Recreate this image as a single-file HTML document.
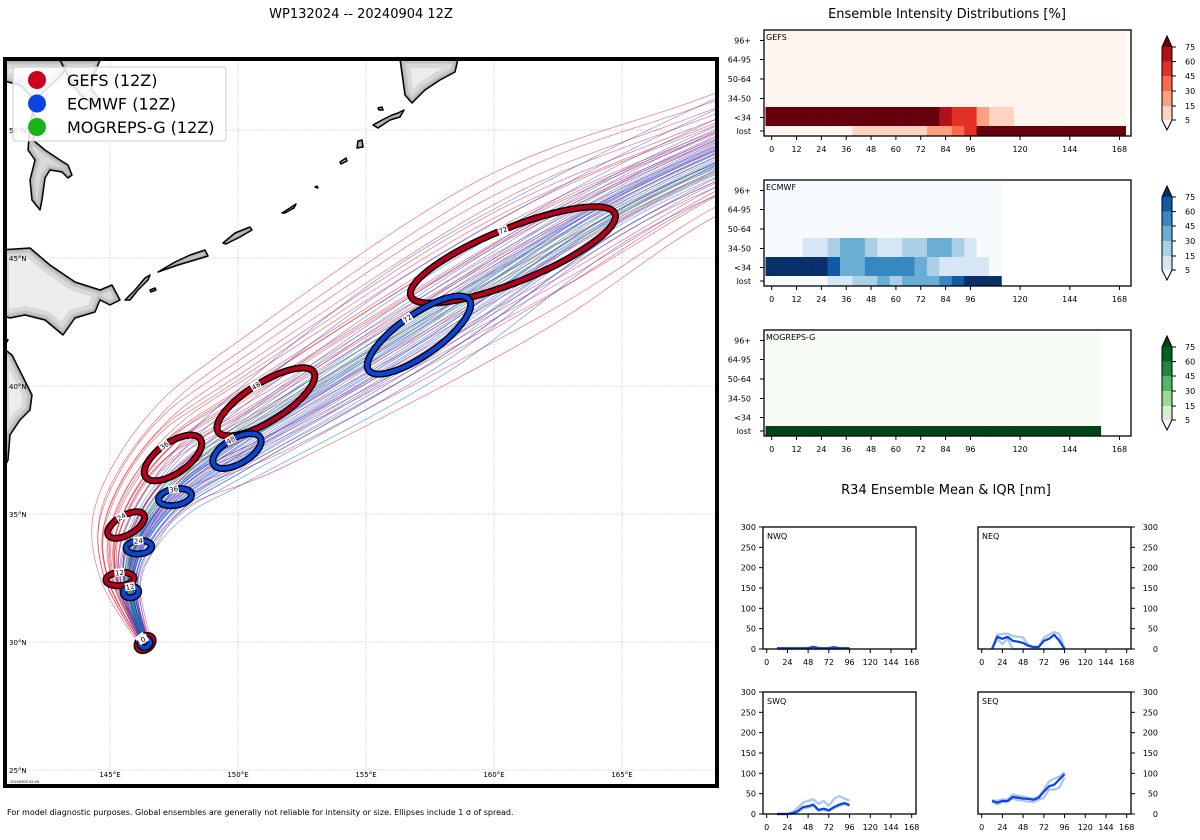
<!DOCTYPE html>
<html><head><meta charset="utf-8"><style>
html,body{margin:0;padding:0;background:#fff;}
svg{display:block;font-family:"DejaVu Sans","Liberation Sans",sans-serif;}
</style></head><body>
<svg id="fig" width="1200" height="840" viewBox="0 0 1200 840" xmlns="http://www.w3.org/2000/svg">
<defs>
<clipPath id="mapclip"><rect x="5" y="59" width="712" height="727"/></clipPath>
</defs>
<text x="361" y="18" font-size="13" text-anchor="middle">WP132024 -- 20240904 12Z</text>
<text x="947" y="18" font-size="13" text-anchor="middle">Ensemble Intensity Distributions [%]</text>
<text x="946" y="494" font-size="13" text-anchor="middle">R34 Ensemble Mean &amp; IQR [nm]</text>
<text x="7" y="815" font-size="8">For model diagnostic purposes. Global ensembles are generally not reliable for intensity or size. Ellipses include 1 σ of spread.</text>
<g id="map"></g>
<g id="heat"></g>
<g id="r34"></g>
</svg>
<script>
// ---------- data ----------
const trackHours = [0,12,24,36,48,72,96,120];
const gefsLon = [146.37,145.39,145.63,147.46,151.09,160.74,168.5,176];
const gefsLat = [29.96,32.46,34.57,37.19,39.38,45.12,49.0,51.8];
const ecmwfLon = [146.37,145.82,146.13,147.54,149.96,157.07,164.5,171];
const ecmwfLat = [29.96,31.95,33.70,35.66,37.46,41.99,46.9,50.0];
const mogLon = [146.37,145.7,146.0,147.6,150.6,159.0,167,175];
const mogLat = [29.96,32.2,34.1,36.4,38.6,43.6,47.8,50.7];
const gefsSpread = [0.15,0.5,0.9,1.2,1.6,2.0,1.4,1.3];
const ecmwfSpread = [0.1,0.25,0.4,0.6,0.9,1.3,1.0,1.0];
const gefsCross = [-1.6,-1.3,-1.1,-0.9,-0.75,-0.6,-0.45,-0.3,-0.2,-0.1,0,0.1,0.2,0.3,0.4,0.5,0.6,0.75,0.9,1.05,1.2,1.4,-1.0,-0.5,0.35,0.8,1.6,-0.8,0.05,0.55];
const gefsAlong = [-0.3,0.2,-0.5,0.4,-0.1,0.3,-0.4,0.1,0.5,-0.2,0.0,-0.3,0.25,-0.15,0.4,-0.45,0.1,0.3,-0.25,0.2,-0.1,0.35,0.6,-0.6,0.15,-0.35,0.0,0.45,-0.5,0.2];
const ecmwfCross = [-1.4,-1.1,-0.9,-0.75,-0.6,-0.5,-0.4,-0.3,-0.22,-0.15,-0.08,0,0.08,0.15,0.22,0.3,0.4,0.5,0.6,0.75,0.9,1.1,1.35,1.7,2.1,-0.35,0.12,0.45,-0.65,0.25,0.7,-0.2,1.0,-0.9,0.35];
const ecmwfAlong = [0.1,-0.2,0.3,-0.1,0.2,-0.3,0.0,0.15,-0.25,0.35,-0.05,0.1,-0.15,0.25,-0.3,0.05,0.2,-0.1,0.3,-0.2,0.1,0.0,-0.25,0.4,0.6,0.2,-0.4,0.3,0.1,-0.15,0.05,0.25,-0.35,0.15,-0.05];
const mogCross = [-0.4,0.0,0.4];
const gefsEllHours = [0,12,24,36,48,72];
const gefsEllRx = [0.35,0.55,0.8,1.3,2.2,4.3];
const gefsEllRy = [0.25,0.26,0.38,0.6,0.75,1.05];
const gefsEllRot = [-40,-5,-30,-35,-32,-22];
const ecmwfEllRx = [0.2,0.3,0.5,0.65,1.05,2.4];
const ecmwfEllRy = [0.17,0.22,0.26,0.32,0.5,0.8];
const ecmwfEllRot = [-30,-10,-5,-10,-30,-35];
const lonTicks = [145,150,155,160,165];
const latTicks = [25,30,35,40,45,50];

const hmHours = [0,6,12,18,24,30,36,42,48,54,60,66,72,78,84,90,96,102,108,114,120,126,132,138,144,150,156,162,168];
const hmRows = ['96+','64-95','50-64','34-50','<34','lost'];
const gefsLt34 = [90,90,90,90,90,90,90,90,90,90,90,90,90,90,65,50,50,20,10,10,0,0,0,0,0,0,0,0,0];
const gefsLost = [0,0,0,0,0,0,0,10,10,10,10,10,10,20,20,35,50,90,90,90,90,90,90,90,90,90,90,90,90];
const ecmwfLt34 = [90,90,90,90,90,65,35,35,50,50,50,50,35,20,10,10,10,10,0];
const ecmwf3450 = [0,0,0,10,10,20,35,35,20,10,10,20,20,35,35,20,10,0,0];
const ecmwfLost = [0,0,0,0,0,10,10,20,20,35,20,35,35,35,50,65,90,90,90];
const mogLost = [90,90,90,90,90,90,90,90,90,90,90,90,90,90,90,90,90,90,90,90,90,90,90,90,90,90,90];
const cbLevels = [5,15,30,45,60,75];

const r34Hours = [12,18,24,30,36,42,48,54,60,66,72,78,84,90,96];
const nwqMean = [2,2,2,2,2,2,2,5,2,2,2,4,2,2,2];
const nwqHi = [2,2,2,2,2,2,3,6,3,2,3,5,3,2,2];
const nwqLo = [0,0,0,0,0,0,0,0,0,0,0,0,0,0,0];
const neqMean = [0,30,25,30,20,18,15,8,5,5,20,25,35,20,0];
const neqHi = [0,35,37,38,32,30,28,10,5,5,28,35,42,37,0];
const neqLo = [0,25,12,25,0,0,0,0,0,0,0,0,0,0,0];
const swqMean = [0,0,0,2,7,17,19,23,10,13,9,17,23,27,22];
const swqHi = [0,0,0,5,15,28,32,36,25,32,20,37,44,38,33];
const swqLo = [0,0,0,1,5,14,16,20,8,10,7,14,20,24,20];
const seqMean = [32,28,32,32,42,40,38,37,35,40,55,68,72,85,98];
const seqHi = [34,32,36,35,48,45,43,40,38,43,60,80,87,92,103];
const seqLo = [30,24,30,30,38,34,33,30,30,35,40,60,60,65,90];
const r34YTicks = [0,50,100,150,200,250,300];
const r34XTicks = [0,24,48,72,96,120,144,168];

// ---------- helpers ----------
const NS='http://www.w3.org/2000/svg';
function mk(parent,tag,attrs,text){const e=document.createElementNS(NS,tag);for(const k in attrs)e.setAttribute(k,attrs[k]);if(text!==undefined)e.textContent=text;parent.appendChild(e);return e;}
const X=lon=>110+(lon-145)*25.6;
const Y=lat=>642-(lat-30)*25.6;

// ---------- map ----------
const map=document.getElementById('map');
mk(map,'rect',{x:5,y:59,width:712,height:727,fill:'#fff'});
const inner=mk(map,'g',{'clip-path':'url(#mapclip)'});
lonTicks.forEach(l=>{const g=mk(inner,'line',{x1:X(l),x2:X(l),y1:59,y2:786,stroke:'#c8c8c8','stroke-width':0.8,'stroke-dasharray':'1.5,1.5'});});
latTicks.forEach(l=>{const g=mk(inner,'line',{x1:5,x2:717,y1:Y(l),y2:Y(l),stroke:'#c8c8c8','stroke-width':0.8,'stroke-dasharray':'1.5,1.5'});});
// land
const lands=[
 'M0,60 L70,60 L62,75 L40,95 L32,110 L38,125 L33,140 L45,150 L60,160 L68,165 L72,175 L68,178 L62,172 L50,170 L45,178 L42,200 L40,210 L32,200 L30,180 L35,160 L28,150 L30,125 L35,100 L20,85 L0,80 Z',
 'M60,60 L100,60 L92,80 L92,90 L100,100 L95,105 L80,95 L70,80 Z',
 'M0,250 L30,248 L50,265 L75,282 L100,290 L112,285 L120,300 L110,305 L100,300 L95,312 L75,318 L63,335 L45,320 L25,315 L10,318 L0,315 Z',
 'M0,335 L8,340 L3,348 L12,355 L22,375 L32,395 L30,410 L20,420 L10,435 L8,460 L3,470 L0,470 Z',
 'M400,59 L458,59 L455,72 L440,80 L425,90 L412,103 L405,95 Z',
 'M373,125 L382,120 L392,115 L398,113 L404,110 L400,117 L390,120 L378,128 Z',
 'M358,141 L362,140 L363,147 L357,148 Z',
 'M125,300 L135,290 L145,278 L150,275 L148,280 L138,290 L130,300 Z',
 'M158,272 L175,262 L190,255 L205,250 L208,256 L195,260 L178,265 Z',
 'M223,243 L235,233 L250,227 L252,230 L240,237 L226,244 Z',
 'M282,213 L290,208 L296,204 L294,208 L285,213 Z',
 'M340,162 L346,158 L347,161 L341,164 Z',
 'M315,187 L317,186 L318,188 Z',
 'M150,290 L155,288 L156,290 L151,292 Z',
 'M378,108 L382,107 L383,110 L379,110 Z',
 'M0,640 L4,642 L2,650 L0,650 Z'
];
lands.forEach((d,i)=>{
 const cid='lc'+i;
 const cp=mk(map.ownerSVGElement.querySelector('defs'),'clipPath',{id:cid});mk(cp,'path',{d:d});
 const g=mk(inner,'g',{});
 
 
 mk(g,'path',{d:d,fill:'#ececec'});
 const cg=mk(g,'g',{'clip-path':'url(#'+cid+')'});
 mk(cg,'path',{d:d,fill:'none',stroke:'#d8d8d8','stroke-width':18});
 mk(cg,'path',{d:d,fill:'none',stroke:'#c4c4c4','stroke-width':9});
 mk(cg,'path',{d:d,fill:'none',stroke:'#aaa','stroke-width':4});
 mk(g,'path',{d:d,fill:'none',stroke:'#000','stroke-width':1.5,'stroke-linejoin':'round'});
});
// tracks
function memberPts(lon,lat,spread,c,a){
 const pts=[];
 for(let i=0;i<lon.length;i++){
  const dx = i<lon.length-1 ? lon[i+1]-lon[i] : lon[i]-lon[i-1];
  const dy = i<lat.length-1 ? lat[i+1]-lat[i] : lat[i]-lat[i-1];
  const n=Math.hypot(dx,dy)||1; const ux=dx/n, uy=dy/n;
  const s=spread[i];
  const lo=lon[i]+s*(c*(-uy)+a*ux), la=lat[i]+s*(c*ux+a*uy);
  pts.push([X(lo),Y(la)]);
 }
 return pts;
}
function smoothPath(p){let d='M'+p[0][0].toFixed(1)+','+p[0][1].toFixed(1);
 for(let i=0;i<p.length-1;i++){const p0=p[i-1]||p[i],p1=p[i],p2=p[i+1],p3=p[i+2]||p2;
  const c1=[p1[0]+(p2[0]-p0[0])/6,p1[1]+(p2[1]-p0[1])/6],c2=[p2[0]-(p3[0]-p1[0])/6,p2[1]-(p3[1]-p1[1])/6];
  d+=' C'+c1.map(v=>v.toFixed(1))+' '+c2.map(v=>v.toFixed(1))+' '+p2.map(v=>v.toFixed(1));}
 return d;}
const tg=mk(inner,'g',{});


gefsCross.forEach((c,i)=>{const p=mk(tg,'path',{d:smoothPath(memberPts(gefsLon,gefsLat,gefsSpread,c,gefsAlong[i])),fill:'none',stroke:'#e0001b','stroke-width':0.7,opacity:0.55});
 });
ecmwfCross.forEach((c,i)=>{const p=mk(tg,'path',{d:smoothPath(memberPts(ecmwfLon,ecmwfLat,ecmwfSpread,c,ecmwfAlong[i])),fill:'none',stroke:'#0b45e0','stroke-width':0.7,opacity:0.55});
 });
mogCross.forEach(c=>{const p=mk(tg,'path',{d:smoothPath(memberPts(mogLon,mogLat,gefsSpread,c*0.3,0)),fill:'none',stroke:'#19b219','stroke-width':0.7,opacity:0.6});
 });
// ellipses
function ellipses(lon,lat,rx,ry,rot,col,name){
 gefsEllHours.forEach((h,i)=>{
  const idx=trackHours.indexOf(h);
  const cx=X(lon[idx]),cy=Y(lat[idx]);
  const g=mk(inner,'g',{transform:`translate(${cx},${cy}) rotate(${rot[i]})`});
  
  
  mk(g,'ellipse',{cx:0,cy:0,rx:rx[i]*25.6,ry:ry[i]*25.6,fill:'none',stroke:'#000','stroke-width':7});
  mk(g,'ellipse',{cx:0,cy:0,rx:rx[i]*25.6,ry:ry[i]*25.6,fill:'none',stroke:col,'stroke-width':4.2});
  const ly=-ry[i]*25.6, lx=0;
  const lab=mk(g,'g',{transform:`translate(${lx},${ly})`});
  mk(lab,'rect',{x:-5,y:-4,width:10,height:8,fill:'#fff'});
  mk(lab,'text',{x:0,y:2.8,'font-size':7,'text-anchor':'middle'},String(h));
 });
}
ellipses(gefsLon,gefsLat,gefsEllRx,gefsEllRy,gefsEllRot,'#b5001e','gefs');
ellipses(ecmwfLon,ecmwfLat,ecmwfEllRx,ecmwfEllRy,ecmwfEllRot,'#0b45d8','ecmwf');
// tick labels
latTicks.forEach(l=>{const t=mk(map,'text',{x:9,y:Y(l)+3,'font-size':7},l+'°N');});
lonTicks.forEach(l=>{const t=mk(map,'text',{x:X(l),y:777,'font-size':7,'text-anchor':'middle'},l+'°E');});
mk(map,'text',{x:10,y:783,'font-size':3.5},'20240905 02:06');
mk(map,'rect',{x:5,y:59,width:712,height:727,fill:'none',stroke:'#000','stroke-width':4});
// legend
const lg=mk(map,'g',{});


mk(lg,'rect',{x:13,y:67,width:213,height:74,rx:3,fill:'#fff','fill-opacity':0.85,stroke:'#ccc','stroke-width':1});
[['GEFS (12Z)','#c8001e'],['ECMWF (12Z)','#0b45e0'],['MOGREPS-G (12Z)','#19b219']].forEach((e,i)=>{
 const g=mk(lg,'g',{});
 mk(g,'circle',{cx:37,cy:80+i*23.5,r:9,fill:e[1]});
 mk(g,'text',{x:67,y:86+i*23.5,'font-size':16},e[0]);
});

// ---------- heatmaps ----------
const heat=document.getElementById('heat');
const HX=h=>771.7+h*2.07;
const rowEdges=[0,19,38,58,77,96,106];
const palettes={
 reds:['#fff5f0','#fdd4c2','#fca082','#fb6a4a','#e32f27','#b11218','#67000d'],
 blues:['#f7fbff','#d6e6f4','#abd0e6','#6aaed6','#3787c0','#105ba4','#08306b'],
 greens:['#f7fcf5','#d5efcf','#9ed798','#55b567','#1d8641','#006227','#00441b']
};
function cls(v){let c=0;cbLevels.forEach((l,i)=>{if(v>=l)c=i+1;});return c;}
function panel(top,label,rowsData,nCols,pal){
 const g=mk(heat,'g',{});
 
 
 const P=palettes[pal];
 for(let r=0;r<6;r++){
  for(let j=0;j<nCols;j++){
   const v=rowsData[r]?rowsData[r][j]:0;
   const h=hmHours[j];
   const c=mk(g,'rect',{x:HX(h-3),y:top+rowEdges[r],width:HX(h+3)-HX(h-3)+0.3,height:rowEdges[r+1]-rowEdges[r]+0.3,fill:P[cls(v)]});
   
   
  }
 }
 mk(g,'rect',{x:764,y:top,width:367,height:106,fill:'none',stroke:'#000','stroke-width':1.3});
 mk(g,'text',{x:766,y:top+10,'font-size':8},label);
 hmRows.forEach((r,i)=>{const yy=top+(rowEdges[i]+rowEdges[i+1])/2+(i==5?0:1);
  mk(g,'line',{x1:760,x2:764,y1:yy,y2:yy,stroke:'#000'});
  mk(g,'text',{x:751,y:yy+3,'font-size':8,'text-anchor':'end'},r);});
 [0,12,24,36,48,60,72,84,96,120,144,168].forEach(h=>{
  mk(g,'line',{x1:HX(h),x2:HX(h),y1:top+106,y2:top+110,stroke:'#000'});
  mk(g,'text',{x:HX(h),y:top+122,'font-size':8,'text-anchor':'middle'},String(h));});
 // colorbar
 const cb=mk(g,'g',{});
 
 
 const segY=[top+17,top+31.6,top+46,top+61,top+76,top+90];
 mk(cb,'path',{d:`M1162,${top+17} L1167,${top+6} L1172,${top+17} Z`,fill:P[6]});
 for(let k=0;k<5;k++) mk(cb,'rect',{x:1162,y:segY[k],width:10,height:segY[k+1]-segY[k]+0.2,fill:P[5-k]});
 mk(cb,'path',{d:`M1162,${top+90} L1167,${top+100} L1172,${top+90} Z`,fill:P[0]});
 mk(cb,'path',{d:`M1162,${top+17} L1167,${top+6} L1172,${top+17} L1172,${top+90} L1167,${top+100} L1162,${top+90} Z`,fill:'none',stroke:'#000','stroke-width':1});
 [75,60,45,30,15,5].forEach((l,k)=>{mk(cb,'line',{x1:1172,x2:1176,y1:segY[k],y2:segY[k],stroke:'#000'});
  mk(cb,'text',{x:1185,y:segY[k]+3,'font-size':8},String(l));});
}
panel(30,'GEFS',[null,null,null,null,gefsLt34,gefsLost],29,'reds');
panel(180,'ECMWF',[null,null,null,ecmwf3450,ecmwfLt34,ecmwfLost],19,'blues');
panel(330,'MOGREPS-G',[null,null,null,null,null,mogLost],27,'greens');

// ---------- R34 ----------
const r34=document.getElementById('r34');
function r34Panel(x0,y0,label,mean,hi,lo,right){
 const g=mk(r34,'g',{});
 
 
 const w=153,h=122;
 const px=t=>x0+3.7+t*0.863, py=v=>y0+h-v*h/300;
 mk(g,'rect',{x:x0,y:y0,width:w,height:h,fill:'#fff'});
 const ln=(arr,col,sw)=>{const p=mk(g,'polyline',{points:r34Hours.map((t,i)=>px(t)+','+py(arr[i])).join(' '),fill:'none',stroke:col,'stroke-width':sw,'stroke-linejoin':'round'});
  };
 ln(hi,'#aac4f5',2.2);ln(lo,'#aac4f5',2.2);ln(mean,'#0b45e0',2.2);
 mk(g,'rect',{x:x0,y:y0,width:w,height:h,fill:'none',stroke:'#000','stroke-width':1.3});
 mk(g,'text',{x:x0+4,y:y0+12,'font-size':8},label);
 r34YTicks.forEach(v=>{const yy=py(v);
  if(right){mk(g,'line',{x1:x0+w,x2:x0+w+4,y1:yy,y2:yy,stroke:'#000'});mk(g,'text',{x:x0+w+27,y:yy+3,'font-size':8,'text-anchor':'end'},String(v));}
  else{mk(g,'line',{x1:x0-4,x2:x0,y1:yy,y2:yy,stroke:'#000'});mk(g,'text',{x:x0-7,y:yy+3,'font-size':8,'text-anchor':'end'},String(v));}});
 r34XTicks.forEach(t=>{mk(g,'line',{x1:px(t),x2:px(t),y1:y0+h,y2:y0+h+4,stroke:'#000'});
  mk(g,'text',{x:px(t),y:y0+h+16,'font-size':8,'text-anchor':'middle'},String(t));});
}
r34Panel(763,527,'NWQ',nwqMean,nwqHi,nwqLo,false);
r34Panel(978,527,'NEQ',neqMean,neqHi,neqLo,true);
r34Panel(763,692,'SWQ',swqMean,swqHi,swqLo,false);
r34Panel(978,692,'SEQ',seqMean,seqHi,seqLo,true);
</script>
</body></html>
